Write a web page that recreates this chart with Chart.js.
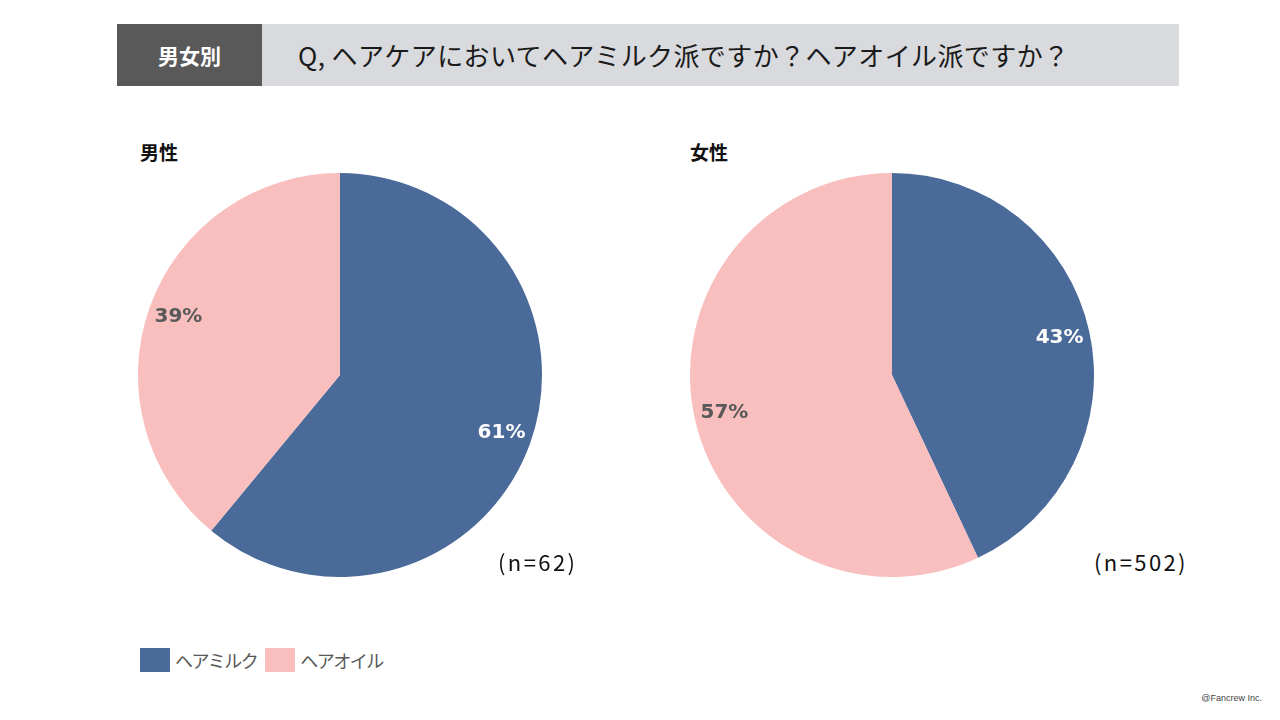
<!DOCTYPE html>
<html lang="ja">
<head>
<meta charset="utf-8">
<script src="https://cdn.jsdelivr.net/npm/chart.js@4.4.1/dist/chart.umd.min.js"></script>
<style>
  body { margin: 0; width: 1280px; height: 720px; background: #fff; position: relative; overflow: hidden;
         font-family: "Noto Sans CJK JP", "Noto Sans", sans-serif; }
  .hdr-dark { position: absolute; left: 117px; top: 24px; width: 145px; height: 62px; background: #595959;
              color: #fff; font-size: 21px; font-weight: bold; line-height: 62px; text-align: center; }
  .hdr-light { position: absolute; left: 262px; top: 24px; width: 917px; height: 62px; background: #d9dadd;
               color: #1a1a1a; font-size: 26px; line-height: 62px; padding-left: 36px; box-sizing: border-box;
               letter-spacing: 0.4px; }
  .sub { position: absolute; top: 138px; font-size: 19px; font-weight: bold; color: #111; }
  .n { position: absolute; top: 545px; font-size: 22px; color: #111; letter-spacing: 2.4px; }
  .pie { position: absolute; top: 173px; width: 404px; height: 404px; }
  #legend { position: absolute; left: 140px; top: 647px; display: flex; align-items: center; font-size: 18px;
            color: #595959; letter-spacing: -1.5px; }
  #legend span.box { display: inline-block; width: 30px; height: 24px; margin-right: 5px; }
  #legend span.lbl { margin-right: 8px; }
  .copy { position: absolute; right: 18px; top: 693px; font-size: 9px; color: #444; font-family: "Liberation Sans", sans-serif; }
</style>
</head>
<body>
<div class="hdr-dark">男女別</div>
<div class="hdr-light">Q, ヘアケアにおいてヘアミルク派ですか？ヘアオイル派ですか？</div>
<div class="sub" style="left:140px">男性</div>
<div class="sub" style="left:690px">女性</div>
<div class="pie" style="left:138px"><canvas id="pieMale"></canvas></div>
<div class="pie" style="left:690px"><canvas id="pieFemale"></canvas></div>
<div class="n" style="left:498px">(n=62)</div>
<div class="n" style="left:1094px">(n=502)</div>
<div id="legend"></div>
<div class="copy">@Fancrew Inc.</div>
<script>
// --- DATA ---
const categories = ['ヘアミルク', 'ヘアオイル'];
const maleValues = [61, 39];
const femaleValues = [43, 57];
const sliceColors = ['#4a6a99', '#f9bebe'];
const labelColors = ['#ffffff', '#595959'];

// nhãn phần trăm bên trong lát bánh
const pctLabels = {
    id: 'pctLabels',
    afterDatasetsDraw(chart) {
        const ctx = chart.ctx;
        const meta = chart.getDatasetMeta(0);
        const data = chart.data.datasets[0].data;
        ctx.save();
        ctx.font = 'bold 20px "DejaVu Sans", sans-serif';
        ctx.textAlign = 'center';
        ctx.textBaseline = 'middle';
        meta.data.forEach((arc, i) => {
            const mid = (arc.startAngle + arc.endAngle) / 2;
            const r = arc.outerRadius * 0.85;
            ctx.fillStyle = labelColors[i];
            ctx.fillText(data[i] + '%', arc.x + Math.cos(mid) * r, arc.y + Math.sin(mid) * r);
        });
        ctx.restore();
    }
};

function makePie(id, values) {
    const ctx = document.getElementById(id).getContext('2d');
    return new Chart(ctx, {
        type: 'pie',
        data: {
            labels: categories,
            datasets: [{ data: values, backgroundColor: sliceColors, borderWidth: 0 }]
        },
        options: {
            responsive: true,
            maintainAspectRatio: false,
            animation: false,
            layout: { padding: 0 },
            plugins: { legend: { display: false }, tooltip: { enabled: false } }
        },
        plugins: [pctLabels]
    });
}

makePie('pieMale', maleValues);
makePie('pieFemale', femaleValues);

let html = '';
categories.forEach((c, i) => {
    html += `<span class="box" style="background:${sliceColors[i]}"></span><span class="lbl">${c}</span>`;
});
document.getElementById('legend').innerHTML = html;
</script>
</body>
</html>
